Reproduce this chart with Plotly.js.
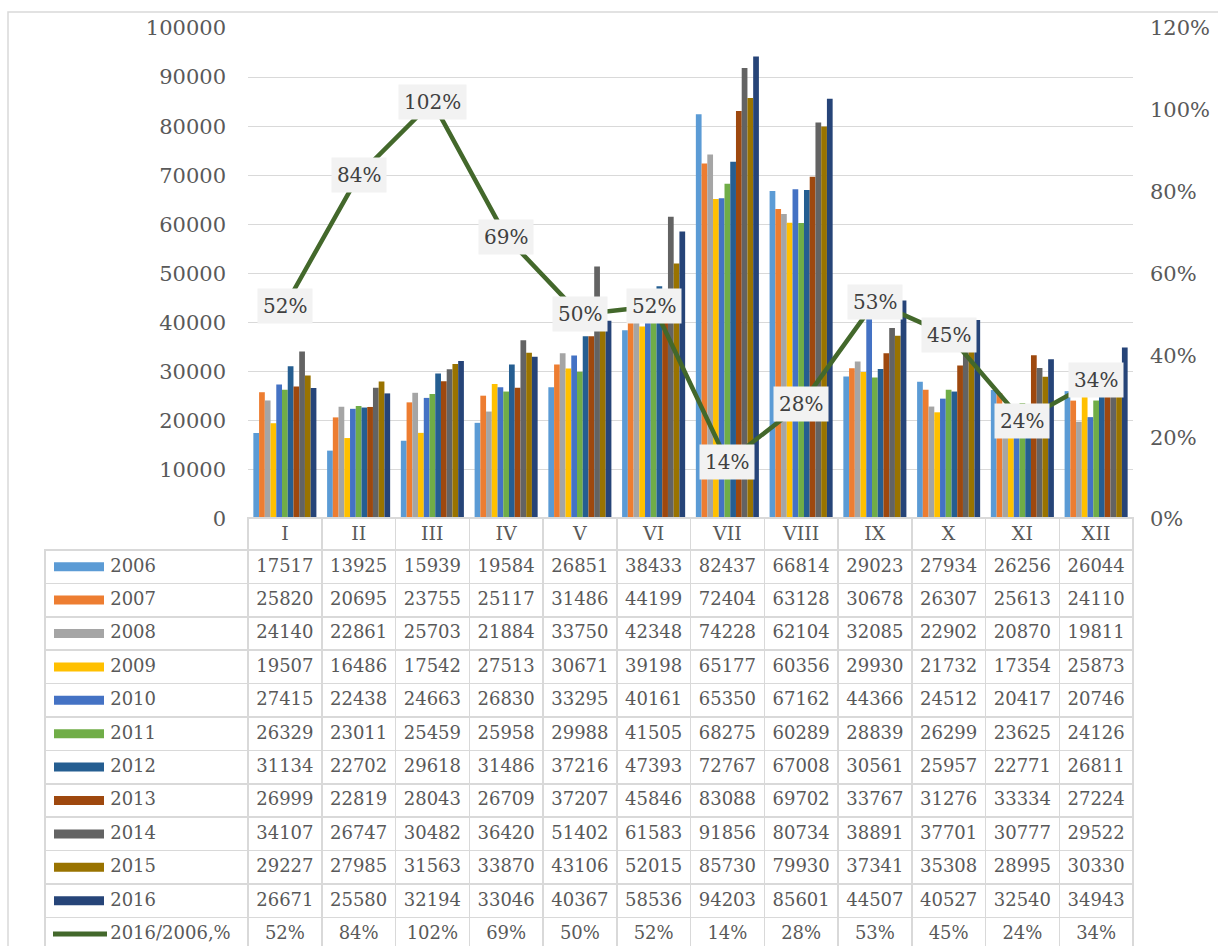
<!DOCTYPE html>
<html>
<head>
<meta charset="utf-8">
<script src="https://cdn.plot.ly/plotly-3.0.1.min.js"></script>
<style>
  html, body { margin: 0; padding: 0; background: #ffffff; }
  #chart { width: 1218px; height: 946px; }
  .scrollbar-kit { display: none; }
</style>
</head>
<body>
<div id="chart"></div>
<script>
// ---- data ----
const categories = ['I','II','III','IV','V','VI','VII','VIII','IX','X','XI','XII'];
const years = ['2006','2007','2008','2009','2010','2011','2012','2013','2014','2015','2016'];
const v2006 = [17517,13925,15939,19584,26851,38433,82437,66814,29023,27934,26256,26044];
const v2007 = [25820,20695,23755,25117,31486,44199,72404,63128,30678,26307,25613,24110];
const v2008 = [24140,22861,25703,21884,33750,42348,74228,62104,32085,22902,20870,19811];
const v2009 = [19507,16486,17542,27513,30671,39198,65177,60356,29930,21732,17354,25873];
const v2010 = [27415,22438,24663,26830,33295,40161,65350,67162,44366,24512,20417,20746];
const v2011 = [26329,23011,25459,25958,29988,41505,68275,60289,28839,26299,23625,24126];
const v2012 = [31134,22702,29618,31486,37216,47393,72767,67008,30561,25957,22771,26811];
const v2013 = [26999,22819,28043,26709,37207,45846,83088,69702,33767,31276,33334,27224];
const v2014 = [34107,26747,30482,36420,51402,61583,91856,80734,38891,37701,30777,29522];
const v2015 = [29227,27985,31563,33870,43106,52015,85730,79930,37341,35308,28995,30330];
const v2016 = [26671,25580,32194,33046,40367,58536,94203,85601,44507,40527,32540,34943];
const ratio = [0.52,0.84,1.02,0.69,0.50,0.52,0.14,0.28,0.53,0.45,0.24,0.34];
const ratioName = '2016/2006,%';
const leftTicks = [0,10000,20000,30000,40000,50000,60000,70000,80000,90000,100000];
const rightTicks = [0,0.2,0.4,0.6,0.8,1.0,1.2];

// ---- styles ----
const seriesValues = [v2006,v2007,v2008,v2009,v2010,v2011,v2012,v2013,v2014,v2015,v2016];
const colors = ['#5B9BD5','#ED7D31','#A5A5A5','#FFC000','#4472C4','#70AD47',
                '#255E91','#9E480E','#636363','#997300','#264478'];
const lineColor = '#43682B';
const textColor = '#595959';
const gridColor = '#D9D9D9';
const serif = 'DejaVu Serif, Liberation Serif, serif';

const W = 1218, H = 946;
const plotL = 248, plotR = 1133, plotT = 28, plotB = 519;
const tableL = 45, tableTop = 518, headerH = 32, rowH = 33.4;
const legendColW = plotL - tableL;
const NB = '\u00a0';
const rowNames = years.concat([ratioName]);

const traces = [];
seriesValues.forEach((vals, i) => {
  traces.push({
    type: 'bar', name: years[i], x: categories, y: vals,
    marker: { color: colors[i] }, showlegend: false, hoverinfo: 'x+y+name'
  });
});
traces.push({
  type: 'scatter', mode: 'lines', name: ratioName, x: categories, y: ratio,
  yaxis: 'y2', line: { color: lineColor, width: 4.5 }, showlegend: false
});

// legend keys of the data table (drawn on their own small axes over the first column)
years.forEach((y, i) => {
  traces.push({
    type: 'scatter', mode: 'lines', x: [9, 59], y: [y, y], xaxis: 'x3', yaxis: 'y3',
    line: { color: colors[i], width: 9 }, showlegend: false, hoverinfo: 'skip'
  });
});
traces.push({
  type: 'scatter', mode: 'lines', x: [8, 62], y: [ratioName, ratioName], xaxis: 'x3', yaxis: 'y3',
  line: { color: lineColor, width: 5 }, showlegend: false, hoverinfo: 'skip'
});

// table
const pctText = ratio.map(r => Math.round(r * 100) + '%');
const pad = NB.repeat(10);
const firstCol = rowNames.map(n => pad + n);
const tableCols = [firstCol];
categories.forEach((c, j) => {
  const col = seriesValues.map(s => String(s[j]));
  col.push(pctText[j]);
  tableCols.push(col);
});
const colW = [legendColW].concat(categories.map(() => (plotR - plotL) / categories.length));
const clear = 'rgba(0,0,0,0)';
const headerLine = [clear].concat(categories.map(() => gridColor));
const headerFill = [clear].concat(categories.map(() => '#FFFFFF'));
const cellFill = [clear].concat(categories.map(() => '#FFFFFF'));

traces.push({
  type: 'table',
  domain: { x: [tableL / W, plotR / W], y: [0, 1 - tableTop / H] },
  columnwidth: colW,
  header: {
    values: [''].concat(categories),
    align: 'center', height: headerH,
    line: { color: headerLine, width: 1.5 },
    fill: { color: headerFill },
    font: { family: serif, size: 19, color: textColor }
  },
  cells: {
    values: tableCols,
    align: ['left'].concat(categories.map(() => 'center')),
    height: rowH,
    line: { color: gridColor, width: 1.5 },
    fill: { color: cellFill },
    font: { family: serif, size: 18, color: textColor }
  }
});

const annotations = categories.map((c, i) => ({
  x: c, y: ratio[i], xref: 'x', yref: 'y2', text: pctText[i],
  showarrow: false, bgcolor: '#F2F2F2', borderpad: 5,
  font: { family: serif, size: 20, color: '#404040' }
}));

const rowsTop = tableTop + headerH;
const visibleRows = (H - rowsTop) / rowH;

const layout = {
  width: W, height: H,
  margin: { l: 0, r: 0, t: 0, b: 0, pad: 0 },
  paper_bgcolor: '#FFFFFF', plot_bgcolor: 'rgba(0,0,0,0)',
  barmode: 'group', bargap: 0.145, bargroupgap: 0,
  xaxis: {
    domain: [plotL / W, plotR / W], type: 'category',
    showticklabels: false, showgrid: false, zeroline: false, showline: false, ticks: ''
  },
  yaxis: {
    domain: [1 - plotB / H, 1 - plotT / H], range: [0, 100000],
    tickvals: leftTicks, tickformat: 'd', showgrid: true, gridcolor: gridColor, gridwidth: 1,
    zeroline: false, showline: false, ticks: '', ticklabelstandoff: 21,
    tickfont: { family: serif, size: 21, color: textColor }
  },
  yaxis2: {
    overlaying: 'y', side: 'right', range: [0, 1.2], tickvals: rightTicks, tickformat: '.0%',
    showgrid: false, zeroline: false, showline: false, ticks: '', ticklabelstandoff: 16,
    tickfont: { family: serif, size: 21, color: textColor }
  },
  xaxis3: {
    domain: [tableL / W, plotL / W], range: [0, legendColW], anchor: 'y3',
    visible: false, fixedrange: true
  },
  yaxis3: {
    domain: [0, 1 - rowsTop / H], type: 'category', categoryarray: rowNames,
    range: [visibleRows - 0.5, -0.5], anchor: 'x3', visible: false, fixedrange: true
  },
  annotations: annotations,
  shapes: [{
    type: 'rect', xref: 'paper', yref: 'paper',
    x0: 8 / W, x1: 1.02, y0: -0.02, y1: 1 - 12 / H,
    line: { color: gridColor, width: 1.5 }, fillcolor: 'rgba(0,0,0,0)', layer: 'below'
  }],
  showlegend: false
};

Plotly.newPlot('chart', traces, layout, { displayModeBar: false, staticPlot: true });
</script>
</body>
</html>
